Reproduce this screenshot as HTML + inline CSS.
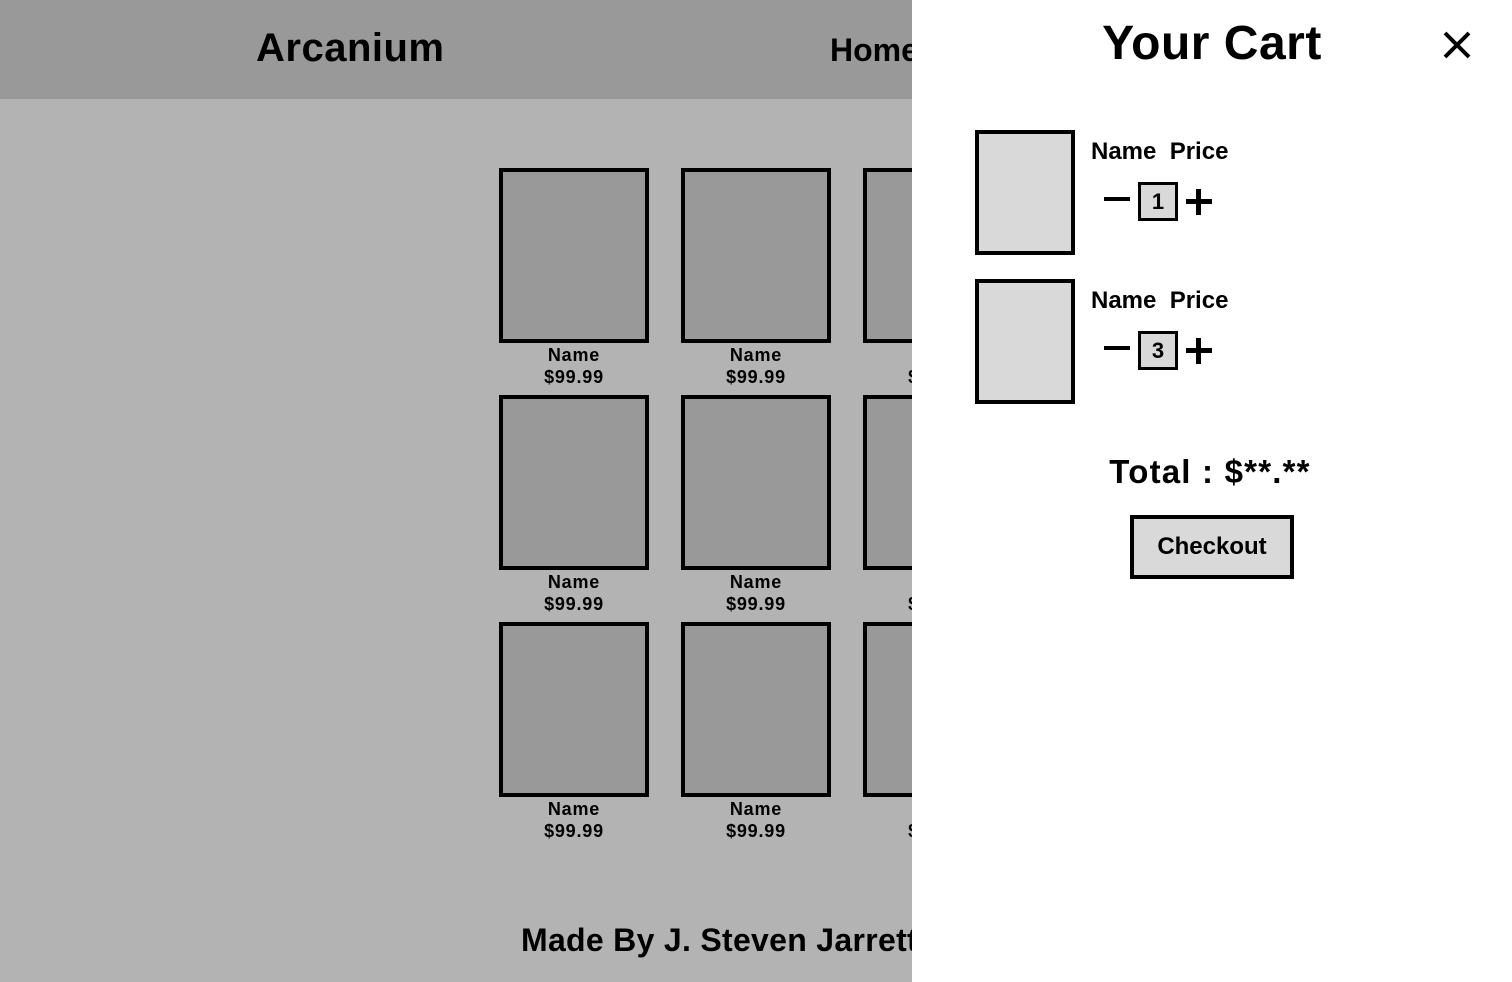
<!DOCTYPE html>
<html><head><style>
*{margin:0;padding:0;box-sizing:border-box}
body{width:1512px;height:982px;overflow:hidden;position:relative;background:#b3b3b3;font-family:"Liberation Sans",sans-serif;font-weight:bold;color:#000}
.a{position:absolute;white-space:nowrap}
.hdr{position:absolute;left:0;top:0;width:1512px;height:99px;background:#999}
.card{position:absolute;width:150px;height:175px;border:4px solid #000;background:#999}
.lbl{position:absolute;width:150px;text-align:center;font-size:18px;line-height:22px;letter-spacing:0.8px}
.panel{position:absolute;left:912px;top:0;width:600px;height:982px;background:#fff}
.img{position:absolute;left:63px;width:100px;height:125px;border:4px solid #000;background:#d9d9d9}
.box{position:absolute;width:40px;height:39px;border:3px solid #000;background:#d9d9d9;text-align:center;font-size:22px;line-height:33px}
</style></head><body>
<div class="hdr"></div>
<div class="a" style="left:256px;top:26px;font-size:40px;letter-spacing:0.5px">Arcanium</div>
<div class="a" style="left:830px;top:32px;font-size:32px">Home</div>

<div class="card" style="left:499px;top:168px"></div>
<div class="card" style="left:681px;top:168px"></div>
<div class="card" style="left:863px;top:168px"></div>
<div class="card" style="left:499px;top:395px"></div>
<div class="card" style="left:681px;top:395px"></div>
<div class="card" style="left:863px;top:395px"></div>
<div class="card" style="left:499px;top:622px"></div>
<div class="card" style="left:681px;top:622px"></div>
<div class="card" style="left:863px;top:622px"></div>

<div class="lbl" style="left:499px;top:344px">Name<br>$99.99</div>
<div class="lbl" style="left:681px;top:344px">Name<br>$99.99</div>
<div class="lbl" style="left:863px;top:344px">Name<br>$99.99</div>
<div class="lbl" style="left:499px;top:571px">Name<br>$99.99</div>
<div class="lbl" style="left:681px;top:571px">Name<br>$99.99</div>
<div class="lbl" style="left:863px;top:571px">Name<br>$99.99</div>
<div class="lbl" style="left:499px;top:798px">Name<br>$99.99</div>
<div class="lbl" style="left:681px;top:798px">Name<br>$99.99</div>
<div class="lbl" style="left:863px;top:798px">Name<br>$99.99</div>

<div class="a" style="left:521px;top:922px;font-size:32px;letter-spacing:0.3px">Made By J. Steven Jarrett</div>

<div class="panel">
  <div class="a" style="left:0;width:600px;text-align:center;top:16px;font-size:48px;letter-spacing:0.5px">Your Cart</div>
  <svg class="a" style="left:530px;top:30px" width="30" height="30"><path d="M3 3L27 27M27 3L3 27" stroke="#000" stroke-width="4"/></svg>

  <div class="img" style="top:130px"></div>
  <div class="a" style="left:179px;top:138px;font-size:24px">Name&nbsp; Price</div>
  <div class="a" style="left:192px;top:197px;width:26px;height:4px;background:#000"></div>
  <div class="box" style="left:226px;top:182px">1</div>
  <div class="a" style="left:274px;top:199px;width:26px;height:5px;background:#000"></div>
  <div class="a" style="left:284px;top:189px;width:5px;height:26px;background:#000"></div>

  <div class="img" style="top:279px"></div>
  <div class="a" style="left:179px;top:287px;font-size:24px">Name&nbsp; Price</div>
  <div class="a" style="left:192px;top:346px;width:26px;height:4px;background:#000"></div>
  <div class="box" style="left:226px;top:331px">3</div>
  <div class="a" style="left:274px;top:348px;width:26px;height:5px;background:#000"></div>
  <div class="a" style="left:284px;top:338px;width:5px;height:26px;background:#000"></div>

  <div class="a" style="left:0;width:596px;text-align:center;top:453px;font-size:33px;letter-spacing:1.2px">Total : $**.**</div>
  <div class="a" style="left:218px;top:515px;width:164px;height:64px;border:4px solid #000;background:#d9d9d9;text-align:center;line-height:56px;font-size:24px">Checkout</div>
</div>
</body></html>
